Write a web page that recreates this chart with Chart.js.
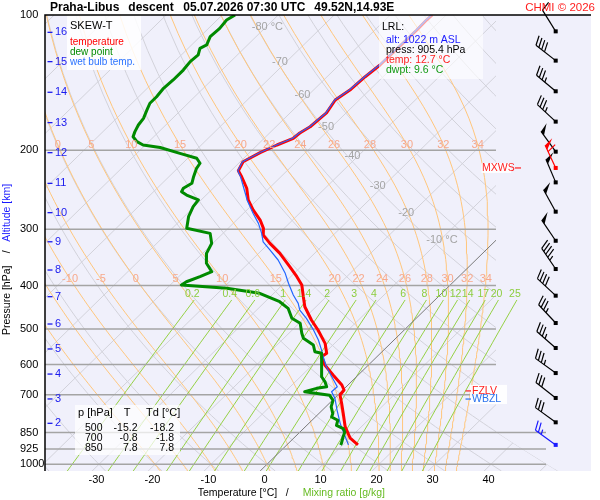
<!DOCTYPE html>
<html><head><meta charset="utf-8">
<script src="https://cdn.jsdelivr.net/npm/chart.js@4.4.1/dist/chart.umd.min.js"></script>
<style>html,body{margin:0;padding:0;background:#fff;}canvas{display:block;}</style>
</head><body>
<canvas id="c" width="600" height="500" style="width:600px;height:500px"></canvas>
<script>
// ---------------- data ----------------
const tempP=[100,102.6,108.0,129.2,137.2,146.9,154.6,165.2,177.3,183.1,188.1,194.7,202.5,212.1,222.1,229.1,243.0,258.0,271.6,286.0,298.4,308.9,322.3,339.2,363.3,382.4,399.0,423.6,446.0,477.4,502.5,538.0,566.2,576.1,601.2,632.8,666.1,683.4,701.2,731.7,770.0,824.8,875.0,905.4];
const tempT=[-52.5,-52.6,-52.5,-52.7,-53.2,-53.5,-54.3,-53.5,-53.9,-54.6,-54.8,-56.5,-58.1,-59.5,-58.7,-57.0,-54.0,-51.6,-48.9,-45.8,-43.7,-42.5,-39.8,-36.2,-32.0,-28.9,-26.5,-24.1,-22.0,-18.4,-15.4,-11.7,-9.6,-9.9,-7.8,-4.5,-1.1,0.2,0.4,2.2,4.3,7.1,10.1,12.7];
const wbP=[100,102.6,108.0,129.2,137.2,146.9,154.6,165.2,177.3,183.1,188.1,194.7,202.5,212.1,222.1,229.1,247.4,258.0,276.3,290.9,306.2,319.7,333.4,351.0,375.8,395.5,420.0,438.3,453.6,473.3,502.5,529.0,556.9,571.2,606.6,638.6,672.1,689.6,713.3,757.2,810.8,846.5,883.4,905.4];
const wbT=[-52.6,-52.7,-52.6,-52.8,-53.3,-53.6,-54.4,-53.6,-54.0,-54.7,-54.9,-56.6,-58.2,-59.6,-58.8,-57.2,-53.7,-51.8,-48.3,-45.5,-43.1,-41.3,-38.6,-35.3,-31.6,-29.2,-26.2,-23.8,-22.3,-19.6,-16.2,-13.5,-11.1,-10.0,-7.2,-4.4,-1.6,-1.7,0.1,2.6,5.6,7.7,9.8,11.0];
const dewP=[100,102.6,107.1,111.7,116.6,118.6,122.7,127.0,132.6,139.5,145.6,152.0,157.2,162.7,169.8,175.7,181.8,186.6,191.4,194.7,197.2,203.2,208.4,213.8,219.4,229.0,236.9,243.1,247.4,251.6,258.0,267.1,281.1,298.4,306.2,322.3,339.2,357.0,372.7,382.4,392.4,399.0,405.8,416.4,434.7,449.6,473.3,485.6,510.9,524.2,542.5,561.6,566.2,586.0,638.6,655.2,672.1,677.6,689.6,702.2,720.3,745.5,771.2,784.7,798.1,819.0,832.8,847.5,869.5,899.4,905.4];
const dewT=[-87.7,-88.3,-88.0,-88.2,-87.3,-87.9,-87.0,-87.2,-86.9,-86.9,-87.1,-86.8,-86.8,-86.1,-85.2,-84.9,-84.3,-83.7,-82.1,-80.4,-76.9,-72.3,-68.4,-66.9,-66.6,-65.6,-64.7,-65.3,-65.0,-63.5,-60.5,-60.2,-59.2,-57.4,-52.3,-50.2,-49.3,-47.5,-45.0,-46.2,-47.7,-48.0,-39.3,-32.5,-27.4,-24.7,-22.2,-19.8,-17.7,-16.5,-13.5,-12.0,-10.5,-9.3,-6.2,-4.7,-3.5,-5.0,-6.5,-1.4,0.1,1.0,2.5,2.9,4.6,5.3,7.1,8.0,8.6,9.5,9.6];

// wind (knots), at altitude levels
const altKm=[16,15,14,13,12,11,10,9,8,7,6,5,4,3,2];
const altP=[109.3,127.0,148.6,173.6,202.5,237.0,275.4,319.7,369.5,423.6,487.3,553.8,629.8,715.5,810.6];
const windDir=[328,308,310,313,324,337,331,326,326,313,317,311,306,308,306];
const windSpd=[10,40,35,35,50,50,50,50,45,40,35,35,35,30,30];
const mxwsP=219.0, mxwsDir=335, mxwsSpd=60;
const sfcP=905.4, sfcDir=306, sfcSpd=25;

// tick labels / reference values
const xTicks=[-30,-20,-10,0,10,20,30,40];
const pTicks=[100,200,300,400,500,600,700,850,925,1000];
const isobarsP=[200,300,400,500,600,700,850,925,1000];
const isobarsLongP=[850,925,1000];
const isothermT=[-120,-110,-100,-90,-80,-70,-60,-50,-40,-30,-20,-10,0,10,20,30,40,50];
const isoLabT=[-80,-70,-60,-50,-40,-30,-20,-10];
const isoLabP=[106.5,127.4,150.7,177.3,205.7,239.9,275.4,316.8];
const dryTheta=[-40,-30,-20,-10,0,10,20,30,40,50,60,70,80,90,100,110,120,130,140,150,160,170,180,190,200,210,220];
const thwLines=[-20,-15,-10,-5,0,5,10,15,20,22,24,26,28,30,32,34];
const thwRow1=[-10,-5,0,5,10,15,20,22,24,26,28,30,32,34];
const thwRow2=[0,5,10,15,20,22,24,26,28,30,32,34];
const pRow1=386.9, pRow2=194.7;
const mixW=[0.2,0.4,0.6,1,1.4,2,3,4,6,8,10,12,14,17,20,25];
const MIX_PTOP=430.8, MIX_PLAB=418.4;
const tableP=[500,700,850], tableT=[-15.2,-0.8,7.8], tableTd=[-18.2,-1.8,7.8];
const lrlAlt=1022, lrlP=905.4, lrlT=12.7, lrlTd=9.6;
const fzlvP=686.6, wbzlP=715.8;

// ---------------- geometry / thermo ----------------
const S=82, PMIN=100, PMAX=1035, XMIN=-39.643, XMAX=57.857;
const CLIP_X=40.89, LONG_X=49.82, CLIP_THETA=50;
const FONT='"Liberation Sans", Arial, Helvetica, sans-serif';
Chart.defaults.font.family=FONT;
const skewX=(t,p)=>t+S*Math.log10(1000/p);
const prof=(P,T)=>P.map((p,i)=>({x:skewX(T[i],p),y:p}));
const dryT=(th,p)=>(th+273.15)*Math.pow(p/1000,0.2857)-273.15;
const es=tc=>6.112*Math.exp(17.67*tc/(tc+243.5));
const rsat=(tc,p)=>{const e=es(tc);return 0.622*e/(p-e);};
function dTdp(tk,p){const Rd=287.04,cp=1005.7,L=2.501e6,eps=0.622;const r=rsat(tk-273.15,p);
  return (Rd*tk+L*r)/(cp+L*L*r*eps/(Rd*tk*tk))/p;}
function moistPath(thw){
  const step=(t,p,h)=>{const k1=dTdp(t,p),k2=dTdp(t+h/2*k1,p+h/2),k3=dTdp(t+h/2*k2,p+h/2),k4=dTdp(t+h*k3,p+h);return t+h/6*(k1+2*k2+2*k3+k4);};
  const up=[{p:1000,t:thw}];let t=thw+273.15;
  for(let i=1;i<=450;i++){const p0=1000-2*(i-1);t=step(t,p0,-2);if(i%5===0)up.push({p:1000-2*i,t:t-273.15});}
  const down=[];t=thw+273.15;
  for(let i=1;i<=7;i++){const p0=1000+5*(i-1);t=step(t,p0,5);down.push({p:1000+5*i,t:t-273.15});}
  return down.reverse().concat(up);
}
const tdFromW=(w,p)=>{const e=w*p/(622+w);const l=Math.log(e/6.112);return 243.5*l/(17.67-l);};

// ---------------- datasets ----------------
const datasets=[];
function line(pts,color,width,order,extra){datasets.push(Object.assign({data:pts,borderColor:color,backgroundColor:color,borderWidth:width,pointRadius:0,showLine:true,fill:false,tension:0,order:order,borderJoinStyle:'round'},extra||{}));}

// profiles (on top)
line(prof(dewP,dewT),'#008a00',3,1);
line(prof(wbP,wbT),'#2266ff',1.2,1.5);
line(prof(tempP,tempT),'#ff0000',3,2);

// isobars
isobarsP.forEach(p=>{const xr=isobarsLongP.includes(p)?LONG_X:CLIP_X;line([{x:XMIN,y:p},{x:xr,y:p}],'#a4a4a4',1.5,5);});

// isotherms
isothermT.forEach(t=>{line([{x:skewX(t,PMAX),y:PMAX},{x:skewX(t,PMIN),y:PMIN}],t===0?'#7a7a7a':'#d2d2da',1,t===0?6:9,{bgClip:true});});
// dry adiabats
dryTheta.forEach(th=>{const pts=[];for(let p=PMAX;p>=PMIN;p-=15){pts.push({x:skewX(dryT(th,p),p),y:p});}
  pts.push({x:skewX(dryT(th,PMIN),PMIN),y:PMIN});line(pts,'#d2d2da',1,9,{bgClip:true});});
// moist adiabats
const moistMap={};
thwLines.forEach(w=>{const path=moistPath(w);moistMap[w]=path;line(path.map(o=>({x:skewX(o.t,o.p),y:o.p})),'#ffc67c',1,8,{bgClip:true});});
// mixing ratio lines
mixW.forEach(w=>{const pts=[];for(let p=PMAX;p>MIX_PTOP;p-=25){pts.push({x:skewX(tdFromW(w,p),p),y:p});}
  pts.push({x:skewX(tdFromW(w,MIX_PTOP),MIX_PTOP),y:MIX_PTOP});line(pts,'#95d144',1,7);});

// ---------------- drawing helpers ----------------
function txt(ctx,s,x,y,size,color,align,bold){ctx.font=(bold?'bold ':'')+size+'px '+FONT;ctx.fillStyle=color;ctx.textAlign=align||'left';ctx.textBaseline='middle';ctx.fillText(s,x,y);}
function clipPath(chart){
  const ctx=chart.ctx,xs=chart.scales.x,ys=chart.scales.y,a=chart.chartArea;
  const xr=xs.getPixelForValue(CLIP_X);
  ctx.beginPath();ctx.moveTo(a.left,a.top);ctx.lineTo(xr,a.top);
  for(let p=PMIN;p<=PMAX;p+=5){const xb=xs.getPixelForValue(skewX(dryT(CLIP_THETA,p),p));ctx.lineTo(Math.max(xr,xb),ys.getPixelForValue(p));}
  ctx.lineTo(a.left,a.bottom);ctx.closePath();
}
function interpX(path,p){for(let i=0;i<path.length-1;i++){const a=path[i],b=path[i+1];if((a.p-p)*(b.p-p)<=0){const f=(p-a.p)/(b.p-a.p||1);return skewX(a.t+(b.t-a.t)*f,p);}}return null;}
function drawBarb(ctx,x,y,dir,spd,color){
  const r=dir*Math.PI/180,dx=Math.sin(r),dy=-Math.cos(r),L=25,FL=10,SP=3.6;
  const a=70*Math.PI/180,fx=dx*Math.cos(a)-dy*Math.sin(a),fy=dx*Math.sin(a)+dy*Math.cos(a);
  const tx=x+dx*L,ty=y+dy*L;
  ctx.save();ctx.strokeStyle=color;ctx.fillStyle=color;ctx.lineWidth=1.2;ctx.lineCap='butt';
  ctx.beginPath();ctx.moveTo(x,y);ctx.lineTo(tx,ty);ctx.stroke();
  ctx.fillRect(x-2,y-2,4,4);
  let s=Math.round(spd/5)*5,pos=0;
  while(s>=50){const bx=tx-dx*pos,by=ty-dy*pos;ctx.beginPath();ctx.moveTo(bx,by);ctx.lineTo(bx+fx*FL,by+fy*FL);ctx.lineTo(bx-dx*5,by-dy*5);ctx.closePath();ctx.fill();pos+=6;s-=50;}
  if(pos>0&&s>0)pos+=1;
  while(s>=10){const bx=tx-dx*pos,by=ty-dy*pos;ctx.beginPath();ctx.moveTo(bx,by);ctx.lineTo(bx+fx*FL,by+fy*FL);ctx.stroke();pos+=SP;s-=10;}
  if(s>=5){if(pos===0)pos=SP;const bx=tx-dx*pos,by=ty-dy*pos;ctx.beginPath();ctx.moveTo(bx,by);ctx.lineTo(bx+fx*FL/2,by+fy*FL/2);ctx.stroke();}
  ctx.restore();
}
function box(ctx,x0,y0,x1,y1,alpha){ctx.fillStyle='rgba(255,255,255,'+alpha+')';ctx.fillRect(x0,y0,x1-x0,y1-y0);}

const skewPlugin={
  id:'skew',
  beforeDraw(chart){const {ctx,chartArea:a}=chart;ctx.save();ctx.fillStyle='#fff';ctx.fillRect(0,0,chart.width,chart.height);
    ctx.fillStyle='#f0f0fb';ctx.fillRect(a.left,a.top,a.right-a.left,a.bottom-a.top);ctx.restore();},
  beforeDatasetDraw(chart,args){const ds=chart.data.datasets[args.index];if(!ds.bgClip)return;chart.ctx.save();clipPath(chart);chart.ctx.clip();},
  afterDatasetDraw(chart,args){const ds=chart.data.datasets[args.index];if(!ds.bgClip)return;chart.ctx.restore();},
  afterDatasetsDraw(chart){
    const ctx=chart.ctx,xs=chart.scales.x,ys=chart.scales.y,a=chart.chartArea;
    const X=v=>xs.getPixelForValue(v),Y=p=>ys.getPixelForValue(p);
    ctx.save();
    // isotherm labels
    isoLabT.forEach((t,i)=>{const p=isoLabP[i],x=X(skewX(t,p))+2,y=Y(p);txt(ctx,String(t),x,y,11,'#a4a4a4','right');
      if(i===0||i===isoLabT.length-1)txt(ctx,' °C',x,y,11,'#a4a4a4','left');});
    // moist adiabat labels
    const orow=(vals,p)=>vals.forEach(w=>{const xv=interpX(moistMap[w],p);if(xv!==null)txt(ctx,String(w),X(xv),Y(p),11,'#f7a98c','center');});
    orow(thwRow1,pRow1);orow(thwRow2,pRow2);
    // mixing ratio labels
    mixW.forEach(w=>{txt(ctx,String(w),X(skewX(tdFromW(w,MIX_PTOP),MIX_PTOP))-2,Y(MIX_PLAB),10.5,'#8ccd3e','center');});
    // legend box
    box(ctx,67,15,141,70,0.85);
    txt(ctx,'SKEW-T',70,26,11,'#000');
    txt(ctx,'temperature',70,42,10,'#ff0000');
    txt(ctx,'dew point',70,52,10,'#008a00');
    txt(ctx,'wet bulb temp.',70,62,10,'#2a72ff');
    // LRL box
    box(ctx,379,15,483,79,0.62);
    txt(ctx,'LRL:',382,27,10.5,'#000');
    txt(ctx,'alt: '+lrlAlt+' m ASL',386,40,10.5,'#1a1aff');
    txt(ctx,'press: '+lrlP.toFixed(1)+' hPa',386,50.5,10.5,'#000');
    txt(ctx,'temp: '+lrlT.toFixed(1)+' °C',386,60.5,10.5,'#ff2020');
    txt(ctx,'dwpt: '+lrlTd.toFixed(1)+' °C',386,70,10.5,'#139a13');
    // table
    box(ctx,75,405,180,455,0.72);
    txt(ctx,'p [hPa]',78,413,11,'#000');txt(ctx,'T',127,413,11,'#000','center');txt(ctx,'Td [°C]',146,413,11,'#000');
    tableP.forEach((p,i)=>{const y=428.3+10*i;txt(ctx,String(p),102.5,y,10.5,'#000','right');txt(ctx,tableT[i].toFixed(1),137.5,y,10.5,'#000','right');txt(ctx,tableTd[i].toFixed(1),174,y,10.5,'#000','right');});
    // FZLV / WBZL / MXWS
    box(ctx,470,Y(fzlvP)-6,507,Y(wbzlP)+5,0.9);
    ctx.lineWidth=1.2;
    ctx.strokeStyle='#ff2020';ctx.beginPath();ctx.moveTo(465.5,Y(fzlvP));ctx.lineTo(471,Y(fzlvP));ctx.stroke();
    ctx.strokeStyle='#2a72ee';ctx.beginPath();ctx.moveTo(465.5,Y(wbzlP));ctx.lineTo(471,Y(wbzlP));ctx.stroke();
    txt(ctx,'FZLV',472,Y(fzlvP),10.5,'#ff2020');
    txt(ctx,'WBZL',472,Y(wbzlP),10.5,'#2a72ee');
    box(ctx,481.5,Y(mxwsP)-5,511,Y(mxwsP)+5,0.9);
    txt(ctx,'MXWS',482,Y(mxwsP),10.5,'#ff2020');
    ctx.strokeStyle='#ff2020';ctx.beginPath();ctx.moveTo(515,Y(mxwsP));ctx.lineTo(521,Y(mxwsP));ctx.stroke();
    // wind barbs
    const bx=a.right-35.3;
    altP.forEach((p,i)=>drawBarb(ctx,bx,Y(p)-1,windDir[i],windSpd[i],'#000'));
    drawBarb(ctx,bx,Y(mxwsP),mxwsDir,mxwsSpd,'#ff0000');
    drawBarb(ctx,bx,Y(sfcP),sfcDir,sfcSpd,'#1a1aff');
    // frame
    ctx.strokeStyle='#000';ctx.lineWidth=1.5;
    ctx.beginPath();ctx.moveTo(a.left,a.bottom);ctx.lineTo(a.left,a.top);ctx.lineTo(a.right,a.top);ctx.stroke();
    // altitude ticks
    altKm.forEach((k,i)=>{const y=Y(altP[i]);ctx.strokeStyle='#1a1aee';ctx.lineWidth=1.3;ctx.beginPath();ctx.moveTo(47.5,y);ctx.lineTo(52.5,y);ctx.stroke();
      txt(ctx,String(k),55,y,11,'#1a1aee');});
    // title
    txt(ctx,'Praha-Libus',50,7.5,12,'#000','left',true);
    txt(ctx,'descent',128.3,7.5,12,'#000','left',true);
    txt(ctx,'05.07.2026 07:30 UTC',183.3,7.5,12,'#000','left',true);
    txt(ctx,'49.52N,14.93E',314.3,7.5,12,'#000','left',true);
    txt(ctx,'CHMI © 2026',595,7.5,11.5,'#ff2020','right');
    // axis titles
    txt(ctx,'Temperature [°C]',197.7,493.3,10.5,'#000');
    txt(ctx,'/',287.3,493.3,10.5,'#000','center');
    txt(ctx,'Mixing ratio [g/kg]',302.7,493.3,10.5,'#66bb22');
    ctx.translate(7.5,0);ctx.rotate(-Math.PI/2);
    txt(ctx,'Pressure [hPa]',-335,0,10.5,'#000');
    txt(ctx,'/',-251.7,0,10.5,'#000','center');
    txt(ctx,'Altitude [km]',-241.7,0,10.5,'#1a1aff');
    ctx.restore();
  }
};

new Chart(document.getElementById('c'),{
  type:'scatter',
  data:{datasets},
  options:{
    responsive:false,animation:false,events:[],
    layout:{padding:{left:20,right:9,top:15,bottom:0}},
    plugins:{legend:{display:false},tooltip:{enabled:false},title:{display:false}},
    scales:{
      x:{type:'linear',position:'bottom',min:XMIN,max:XMAX,grid:{display:false,drawTicks:false},border:{display:false},
        afterBuildTicks:s=>{s.ticks=xTicks.map(v=>({value:v}));},
        afterFit:s=>{s.height=29;},
        ticks:{autoSkip:false,maxRotation:0,padding:2,labelOffset:-2.5,color:'#000',font:{size:11},callback:v=>String(v)}},
      y:{type:'logarithmic',position:'left',reverse:true,min:PMIN,max:PMAX,grid:{display:false,drawTicks:false},border:{display:false},
        afterBuildTicks:s=>{s.ticks=pTicks.map(v=>({value:v}));},
        afterFit:s=>{s.width=25;},
        ticks:{autoSkip:false,crossAlign:'far',padding:0,color:'#000',font:{size:11},callback:v=>String(v)}}
    }
  },
  plugins:[skewPlugin]
});
</script>
</body></html>
